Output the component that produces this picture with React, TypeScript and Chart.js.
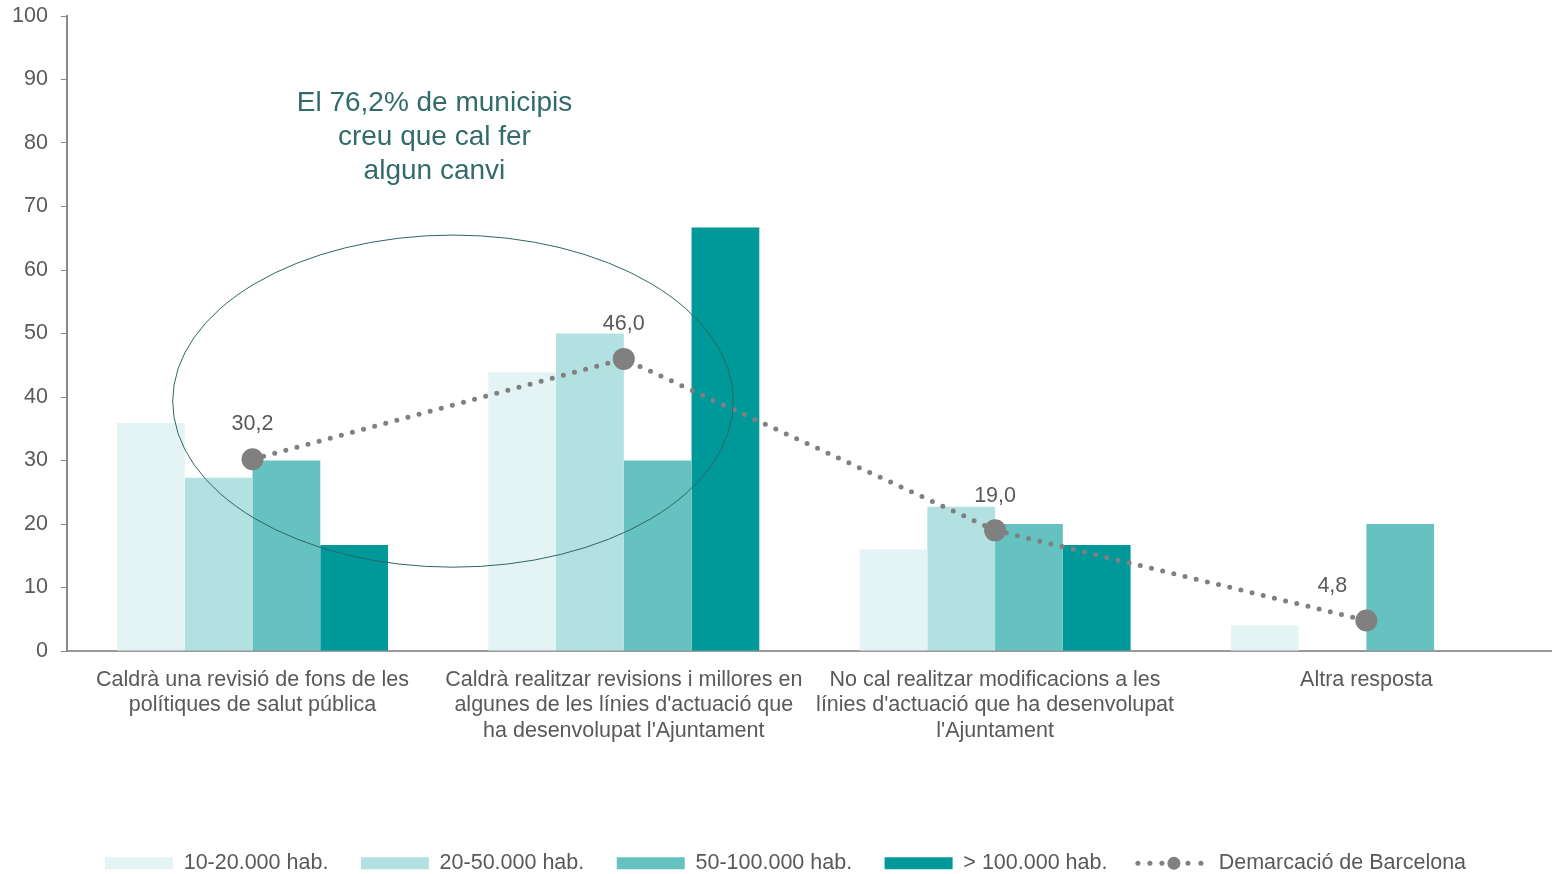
import React, { useEffect, useRef } from "react";
import { Chart, registerables } from "chart.js";

Chart.register(...registerables);

const categories: string[][] = [
  ["Caldrà una revisió de fons de les", "polítiques de salut pública"],
  ["Caldrà realitzar revisions i millores en", "algunes de les línies d'actuació que", "ha desenvolupat l'Ajuntament"],
  ["No cal realitzar modificacions a les", "línies d'actuació que ha desenvolupat", "l'Ajuntament"],
  ["Altra resposta"],
];

const seriesNames = ["10-20.000 hab.", "20-50.000 hab.", "50-100.000 hab.", "> 100.000 hab.", "Demarcació de Barcelona"];
const pop10to20 = [35.9, 43.9, 16.0, 4.0];
const pop20to50 = [27.3, 50.0, 22.7, 0];
const pop50to100 = [30.0, 30.0, 20.0, 20.0];
const popOver100 = [16.7, 66.7, 16.7, 0];
const demarcacio = [30.2, 46.0, 19.0, 4.8];
const yTicks = [0, 10, 20, 30, 40, 50, 60, 70, 80, 90, 100];

const annotationLines = ["El 76,2% de municipis", "creu que cal fer", "algun canvi"];

const FONT = "'Liberation Sans', Arial, sans-serif";
const FS = 21.5;
const TEXT = "#595959";
const GREY = "#808080";

export default function App() {
  const ref = useRef<HTMLCanvasElement | null>(null);

  useEffect(() => {
    document.body.style.margin = "0";
    const canvas = ref.current!;

    const overlay = {
      id: "overlay",
      afterLayout(chart: any) {
        const lg = chart.legend;
        if (lg) {
          lg.left += 10;
          lg.right += 10;
        }
      },
      afterDatasetsDraw(chart: any) {
        const ctx = chart.ctx;
        const xs = chart.scales.x;
        const ys = chart.scales.y;
        const meta = chart.getDatasetMeta(4);
        ctx.save();
        ctx.font = `${FS}px ${FONT}`;
        ctx.fillStyle = TEXT;
        ctx.textAlign = "center";
        ctx.textBaseline = "bottom";
        meta.data.forEach((pt: any, i: number) => {
          const dx = i === meta.data.length - 1 ? -34 : 0;
          ctx.fillText(demarcacio[i].toFixed(1).replace(".", ","), pt.x + dx, pt.y - 24);
        });
        const cx = xs.getPixelForValue(0.54);
        const cy = ys.getPixelForValue(39.35);
        const rx = Math.abs(xs.getPixelForValue(0.54 + 0.755) - cx);
        const ry = Math.abs(ys.getPixelForValue(39.35 + 26.15) - cy);
        ctx.beginPath();
        ctx.ellipse(cx, cy, rx, ry, 0, 0, Math.PI * 2);
        ctx.strokeStyle = "#2f6666";
        ctx.lineWidth = 1;
        ctx.stroke();
        ctx.font = `28px ${FONT}`;
        ctx.fillStyle = "#336b6b";
        ctx.textBaseline = "middle";
        const tx = xs.getPixelForValue(0.49);
        const lineVals = [86.3, 80.9, 75.6];
        annotationLines.forEach((t, i) => {
          ctx.fillText(t, tx, ys.getPixelForValue(lineVals[i]));
        });
        ctx.restore();
      },
      afterDraw(chart: any) {
        const legend = chart.legend;
        if (!legend || !legend.legendHitBoxes) return;
        const items = legend.legendItems;
        const idx = items.findIndex((it: any) => it.datasetIndex === 4);
        if (idx < 0) return;
        const box = legend.legendHitBoxes[idx];
        const ctx = chart.ctx;
        const y = box.top + box.height / 2;
        const x0 = box.left;
        const w = 68;
        ctx.save();
        ctx.fillStyle = "#fff";
        ctx.fillRect(x0 - 5, box.top - 4, w + 10, box.height + 8);
        ctx.fillStyle = GREY;
        const cxm = x0 + w / 2;
        [-36, -24, -12, 14, 27].forEach((d) => {
          ctx.beginPath();
          ctx.arc(cxm + d, y, 2.5, 0, Math.PI * 2);
          ctx.fill();
        });
        ctx.beginPath();
        ctx.arc(cxm, y, 6.5, 0, Math.PI * 2);
        ctx.fill();
        ctx.restore();
      },
    };

    const chart = new Chart(canvas, {
      type: "bar",
      data: {
        labels: categories,
        datasets: [
          { label: seriesNames[0], data: pop10to20, backgroundColor: "#e4f4f4", order: 2, categoryPercentage: 0.73, barPercentage: 1 },
          { label: seriesNames[1], data: pop20to50, backgroundColor: "#b3e0e0", order: 2, categoryPercentage: 0.73, barPercentage: 1 },
          { label: seriesNames[2], data: pop50to100, backgroundColor: "#66c2c0", order: 2, categoryPercentage: 0.73, barPercentage: 1 },
          { label: seriesNames[3], data: popOver100, backgroundColor: "#009999", order: 2, categoryPercentage: 0.73, barPercentage: 1 },
          {
            type: "line",
            label: seriesNames[4],
            data: demarcacio,
            order: 0,
            borderColor: GREY,
            backgroundColor: GREY,
            borderWidth: 5,
            borderDash: [0, 11.5],
            borderCapStyle: "round",
            pointRadius: 11,
            pointBackgroundColor: GREY,
            pointBorderWidth: 0,
            tension: 0,
          } as any,
        ],
      },
      options: {
        animation: false,
        responsive: true,
        maintainAspectRatio: false,
        layout: { autoPadding: false, padding: { left: -1, right: 0, top: 0, bottom: -10 } },
        plugins: {
          tooltip: { enabled: false },
          legend: {
            position: "bottom",
            labels: {
              boxWidth: 68,
              boxHeight: 12,
              padding: 32.5,
              color: TEXT,
              font: { family: FONT, size: FS },
              sort: (a: any, b: any) => a.datasetIndex - b.datasetIndex,
            },
          },
        },
        scales: {
          x: {
            grid: { display: false, drawTicks: false },
            border: { color: "#999", width: 2 },
            ticks: {
              color: TEXT,
              font: { family: FONT, size: FS, lineHeight: 1.19 },
              padding: 16,
              maxRotation: 0,
              autoSkip: false,
            },
            afterFit(scale: any) {
              scale.height = 169;
            },
          },
          y: {
            min: 0,
            max: 100,
            afterBuildTicks(scale: any) {
              scale.ticks = yTicks.map((v) => ({ value: v }));
            },
            afterFit(scale: any) {
              scale.paddingTop = 16;
              scale.paddingBottom = 0;
            },
            grid: { display: true, drawOnChartArea: false, tickLength: 6, color: "#888" },
            border: { color: "#888", width: 2 },
            ticks: { color: TEXT, font: { family: FONT, size: FS }, padding: 13 },
          },
        },
      },
      plugins: [overlay],
    });

    return () => chart.destroy();
  }, []);

  return (
    <div style={{ width: 1552, height: 874, position: "relative", background: "#fff" }}>
      <canvas ref={ref} />
    </div>
  );
}
